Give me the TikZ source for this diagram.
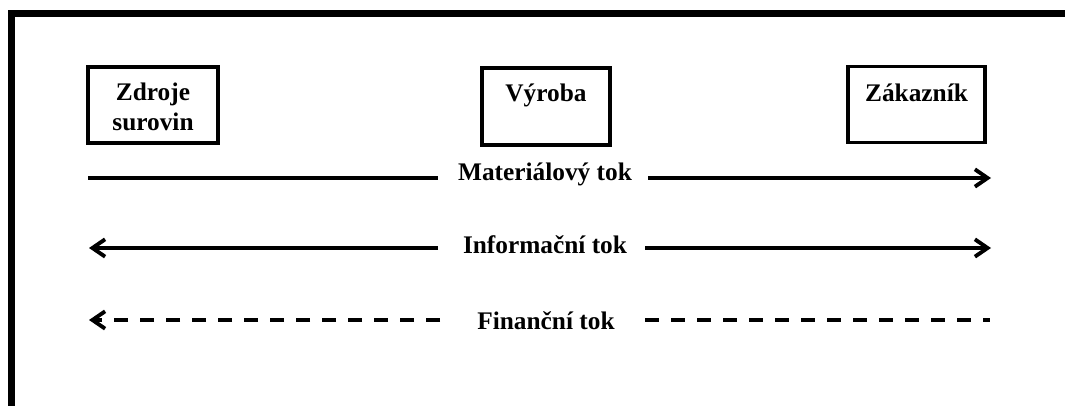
\documentclass[tikz,border=0pt]{standalone}
\usepackage{fontspec}
\setmainfont{Liberation Serif}
\usetikzlibrary{arrows.meta}
\begin{document}
\begin{tikzpicture}[x=0.75pt,y=-0.75pt,
  frame/.style={line width=5.2pt},
  stagebox/.style={draw,line width=2.4pt,minimum width=#1*0.75pt,inner sep=0pt},
  boxtext/.style={font=\fontsize{19}{23}\selectfont\bfseries,align=center,inner sep=0pt},
  flowlabel/.style={font=\fontsize{19}{22}\selectfont\bfseries,inner sep=0pt},
  flow/.style={line width=2.3pt},
  flowtip/.style={-{Straight Barb[length=9.5pt,width=13pt,line width=2.9pt]}},
  dashedflow/.style={line width=2.3pt,dash pattern=on 10.5pt off 9pt}]
\useasboundingbox (0,0) rectangle (1065,406);
\fill[white] (0,0) rectangle (1065,406);
% outer frame, open at the right and bottom
\draw[frame] (11.5,406) -- (11.5,13.5) -- (1065,13.5);

% stages of the chain
\node[stagebox=130,minimum height=57pt] (zdroje) at (153,105) {};
\node[boxtext] (zdrojeT) at (153,107) {Zdroje\\surovin};
\node[stagebox=128,minimum height=57.75pt] (vyroba) at (546,106.5) {};
\node[boxtext] (vyrobaT) at (546,95) {Výroba};
\node[stagebox=137,minimum height=57pt] (zakaznik) at (916.5,104.5) {};
\node[boxtext] (zakaznikT) at (916.5,93) {Zákazník};

% material flow
\node[flowlabel] (mat) at (545,174) {Materiálový tok};
\coordinate (mA) at (88,178);
\coordinate (mB) at (438,178);
\coordinate (mC) at (648,178);
\coordinate (mD) at (991,178);
\draw[flow] (mA) -- (mB);
\draw[flow,flowtip] (mC) -- (mD);

% information flow
\node[flowlabel] (inf) at (545,245) {Informační tok};
\coordinate (iA) at (89,248);
\coordinate (iB) at (438,248);
\coordinate (iC) at (645,248);
\coordinate (iD) at (991,248);
\draw[flow,flowtip] (iB) -- (iA);
\draw[flow,flowtip] (iC) -- (iD);

% financial flow
\node[flowlabel] (fin) at (546,321) {Finanční tok};
\coordinate (fA) at (89,320);
\coordinate (fB) at (440,320);
\coordinate (fC) at (645,320);
\coordinate (fD) at (990,320);
\draw[dashedflow,flowtip] (fB) -- (fA);
\draw[dashedflow] (fC) -- (fD);
\end{tikzpicture}
\end{document}
